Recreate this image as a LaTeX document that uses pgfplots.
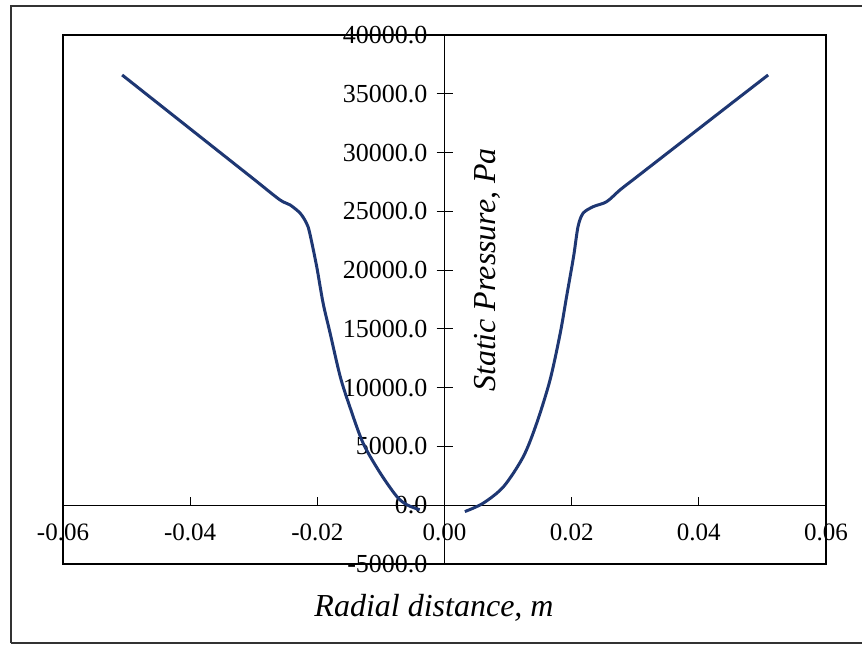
\documentclass[border=0pt]{standalone}
\usepackage{fontspec}
\setmainfont{Liberation Serif}
\usepackage{pgfplots}
\pgfplotsset{compat=1.18}
\definecolor{navy}{RGB}{30,55,115}
\begin{document}
\begin{tikzpicture}
\path[use as bounding box] (0pt,0pt) rectangle (431pt,-322pt);
\draw[line width=0.9pt, black!80] (5.5pt,-321.5pt) -- (5.5pt,-3pt) -- (440pt,-3pt);
\draw[line width=0.9pt, black!80] (5.5pt,-321.5pt) -- (440pt,-321.5pt);
\begin{axis}[
  at={(31.5pt,-17.5pt)}, anchor=north west,
  scale only axis, width=381.5pt, height=264.5pt,
  xmin=-0.06, xmax=0.06, ymin=-5000, ymax=40000,
  axis lines=middle, axis line style={-, line width=0.6pt},
  hide obscured x ticks=false, hide obscured y ticks=false,
  xtick={-0.06,-0.04,-0.02,0,0.02,0.04,0.06},
  ytick={-5000,0,5000,10000,15000,20000,25000,30000,35000,40000},
  major tick length=8pt,
  xtick align=inside, ytick align=center,
  x tick style={draw=none},
  y tick style={line width=0.6pt, black},
  /pgf/number format/assume math mode=true,
  xticklabel style={/pgf/number format/.cd, fixed, fixed zerofill, precision=2, /tikz/.cd, font=\fontsize{12.5}{14}\selectfont, yshift=-6pt},
  yticklabel style={/pgf/number format/.cd, fixed, fixed zerofill, precision=1, 1000 sep={}, /tikz/.cd, font=\fontsize{13}{15}\selectfont, xshift=-1pt},
  scaled x ticks=false, scaled y ticks=false,
  clip=false,
]
\draw[line width=0.6pt] (rel axis cs:0,0) rectangle (rel axis cs:1,1);
\pgfplotsinvokeforeach{-0.04,-0.02,0.02,0.04}{\draw[line width=0.6pt] (axis cs:#1,0) -- ++(0pt,4pt);}
\addplot[navy, line width=1.5pt, smooth, tension=0.5] coordinates {
(-0.0507,36600) (-0.0450,34160) (-0.0400,32020) (-0.0350,29880) (-0.0300,27740)
(-0.0259,25980) (-0.0243,25550) (-0.0227,24840) (-0.0217,23990) (-0.0212,23160)
(-0.0201,20300) (-0.0191,17210) (-0.0180,14660) (-0.0164,10940) (-0.0149,8390)
(-0.0128,5280) (-0.0101,2730) (-0.0075,740) (-0.0059,34) (-0.0039,-390)
};
\addplot[navy, line width=1.5pt, smooth, tension=0.5] coordinates {
(0.0032,-540) (0.0061,180) (0.0093,1590) (0.0124,4140) (0.0145,6980)
(0.0166,10660) (0.0182,14630) (0.0192,17750) (0.0203,21150) (0.0210,23700)
(0.0218,24840) (0.0234,25400) (0.0255,25820) (0.0276,26820) (0.0300,27830)
(0.0350,29930) (0.0400,32030) (0.0450,34130) (0.0509,36600)
};
\node[rotate=90, font=\fontsize{16}{19}\selectfont\itshape] at (rel axis cs:0.5557,0.5558) {Static Pressure, Pa};
\end{axis}
\node[font=\fontsize{16}{19}\selectfont\itshape] at (217pt,-304pt) {Radial distance, m};
\end{tikzpicture}
\end{document}
